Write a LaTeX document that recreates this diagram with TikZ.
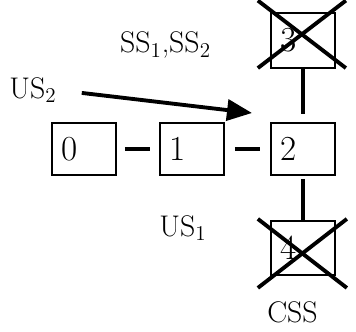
\documentclass[tikz,border=0pt]{standalone}
\usepackage{tikz}
\usetikzlibrary{arrows.meta,positioning,calc}

\begin{document}
\begin{tikzpicture}[
    node distance=0.84cm and 0.84cm,
    cell/.style={draw, line width=1.1pt, align=left, text width=0.88cm, inner sep=0.2cm, minimum height=1.04cm, font=\fontsize{20}{24}\selectfont},
    lbl/.style={inner sep=0pt, font=\fontsize{17}{20}\selectfont},
    link/.style={line width=2.6pt},
    cross/.style={line width=2.2pt},
    arrow/.style={-{Triangle[length=0.5cm, width=0.42cm]}, line width=2.2pt}
]
\useasboundingbox (0,0) rectangle (7.12,6.64);

\node[cell] (c0) at (1.68,3.66) {0};
\node[cell, right=0.84cm of c0] (c1) {1};
\node[cell, right=0.9cm of c1] (c2) {2};
\node[cell, above=1.06cm of c2, minimum height=1.1cm] (c3) {3};
\node[cell, below=0.88cm of c2, minimum height=1.08cm] (c4) {4};

\node[lbl] (us2) at (0.66,4.84) {US$_2$};
\node[lbl] (ss) at (3.31,5.74) {SS$_1$,SS$_2$};
\node[lbl] (us1) at (3.66,2.08) {US$_1$};
\node[lbl] (css) at (5.85,0.4) {CSS};
\coordinate (tip) at (5.04,4.38);

\draw[link, shorten <=0.16cm, shorten >=0.18cm] (c0) -- (c1);
\draw[link, shorten <=0.2cm, shorten >=0.2cm] (c1) -- (c2);
\draw[link, shorten >=0.16cm] (c3) -- (c2);
\draw[link, shorten <=0.06cm] (c2) -- (c4);
\draw[arrow, shorten <=0.5cm] (us2.east) -- (tip);

% crossed out cells
\draw[cross] ($(c3.center)+(-0.9,0.8)$) -- ($(c3.center)+(0.86,-0.55)$);
\draw[cross] ($(c3.center)+(0.86,0.8)$) -- ($(c3.center)+(-0.9,-0.55)$);
\draw[cross] ($(c4.center)+(-0.9,0.58)$) -- ($(c4.center)+(0.88,-0.8)$);
\draw[cross] ($(c4.center)+(0.88,0.58)$) -- ($(c4.center)+(-0.9,-0.8)$);
\end{tikzpicture}
\end{document}
